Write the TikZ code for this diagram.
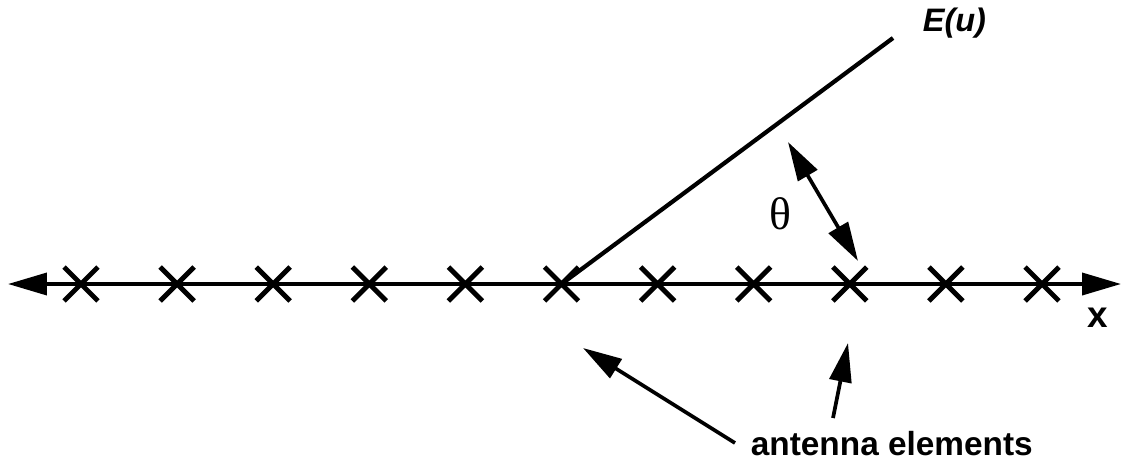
\documentclass[tikz,border=0pt]{standalone}
\usepackage{fontspec}
\setmainfont{Liberation Sans}
\newfontfamily\thetafont{Liberation Serif}
\usetikzlibrary{arrows.meta,shapes.misc}
\begin{document}
\begin{tikzpicture}[x=0.02cm,y=-0.02cm,line width=2.1pt,>={Triangle[length=0.78cm,width=0.44cm]},
	elem/.style={cross out,draw,line width=2.8pt,minimum size=0.58cm,inner sep=0pt},
	lab/.style={font=\fontsize{19}{22}\selectfont\bfseries,inner sep=0pt}]
	\useasboundingbox (0,0) rectangle (1124,467);
	% axis with the elements
	\coordinate (xl) at (8,284);
	\coordinate (xr) at (1121,284);
	\draw[<->] (xl)--(xr);
	\node[lab,font=\fontsize{21}{24}\selectfont\bfseries] (xlab) at (1098,318) {x};
	\foreach \i in {0,...,10}
		\node[elem] (e\i) at ({81+96.1*\i},284) {};
	% direction of the wave
	\coordinate (etip) at (893,38);
	\draw[line width=2.4pt] (e5.center)--(etip);
	\node[lab,font=\fontsize{18.5}{22}\selectfont\bfseries\itshape,anchor=west] (eu) at (921,23) {E(u)};
	\coordinate (ta) at (788,142);
	\coordinate (tb) at (858,261);
	\draw[<->] (ta)--(tb);
	\node[inner sep=0pt,font=\fontsize{26}{28}\selectfont\thetafont] (th) at (780,214) {θ};
	% label for the elements
	\node[lab,anchor=base west] (ae) at (749,455) {antenna elements};
	\coordinate (a1) at (583,348);
	\coordinate (a2) at (848,343);
	\draw[->] (735,443)--(a1);
	\draw[->] (833,418)--(a2);
\end{tikzpicture}
\end{document}
